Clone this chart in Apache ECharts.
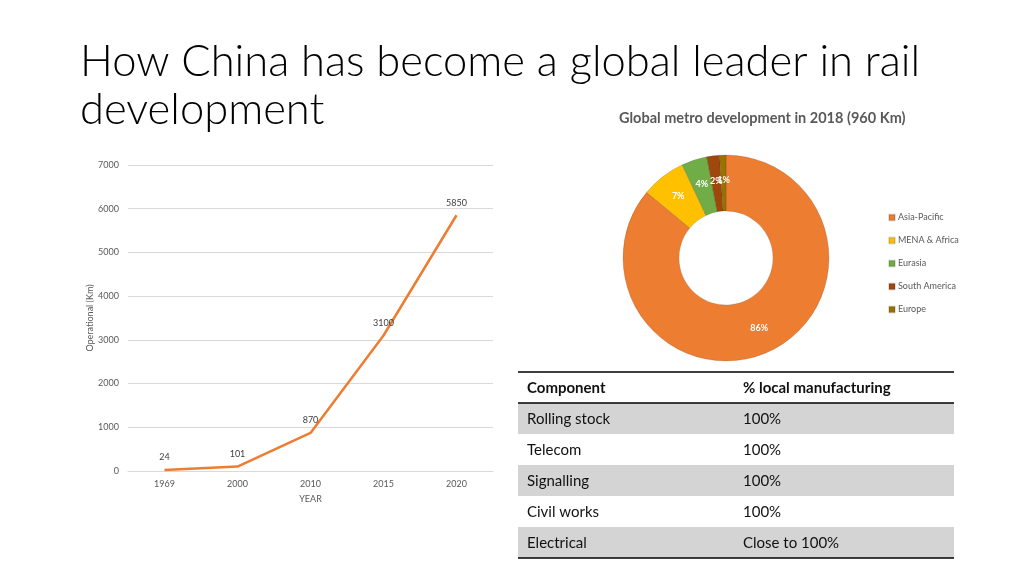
<!DOCTYPE html>
<html>
<head>
<meta charset="utf-8">
<title>China rail development</title>
<script src="https://cdn.jsdelivr.net/npm/echarts@6/dist/echarts.min.js"></script>
<style>
    html, body { margin:0; padding:0; background:#fff; }
    #main { width:1024px; height:576px; }
</style>
</head>
<body>
<div id="main"></div>
<script>
    var years = ['1969', '2000', '2010', '2015', '2020'];
    var operationalKm = [24, 101, 870, 3100, 5850];

    var regions = ['Asia-Pacific', 'MENA & Africa', 'Eurasia', 'South America', 'Europe'];
    var regionShare = [86, 7, 4, 2, 1];
    var regionColors = ['#ED7D31', '#FFC000', '#70AD47', '#9E480E', '#997300'];

    var tableHeader = ['Component', '% local manufacturing'];
    var components = ['Rolling stock', 'Telecom', 'Signalling', 'Civil works', 'Electrical'];
    var localShare = ['100%', '100%', '100%', '100%', 'Close to 100%'];

    var font = 'Lato, "Open Sans", sans-serif';

    //表格
    var buildTable = function(){
        var left = 518, width = 436, top = 372, rowH = 31, col2 = 743;
        var els = [];
        for(var i=0; i<components.length; i++){
            if(i%2 === 0){
                els.push({
                    type:'rect',
                    shape:{x:left, y:top+rowH*(i+1), width:width, height:rowH},
                    style:{fill:'#D4D4D4'}
                });
            }
        }
        var rows = [tableHeader].concat(components.map(function(c, i){ return [c, localShare[i]]; }));
        for(var r=0; r<rows.length; r++){
            var y = top + rowH*r + rowH/2 + 1;
            var bold = r === 0 ? 'bold' : 'normal';
            els.push({type:'text', x:left+9, y:y, style:{text:rows[r][0], font:bold+' 15px '+font, fill:'#111', verticalAlign:'middle'}});
            els.push({type:'text', x:col2, y:y, style:{text:rows[r][1], font:bold+' 15px '+font, fill:'#111', verticalAlign:'middle'}});
        }
        var lines = [top, top+rowH, top+rowH*rows.length];
        for(var k=0; k<lines.length; k++){
            els.push({
                type:'line',
                shape:{x1:left, y1:lines[k], x2:left+width, y2:lines[k]},
                style:{stroke:'#000', lineWidth:1.3}
            });
        }
        return els;
    };

    var chart = echarts.init(document.getElementById('main'));

    var option = {
        animation:false,
        textStyle:{fontFamily:font},
        title:[{
            text:'How China has become a global leader in rail\ndevelopment',
            left:75,
            top:33,
            textStyle:{fontSize:43.5, fontWeight:300, color:'#000', lineHeight:48, fontFamily:font}
        },{
            text:'Global metro development in 2018 (960 Km)',
            left:614,
            top:106,
            textStyle:{fontSize:14.5, fontWeight:'bold', color:'#595959', fontFamily:font}
        }],
        legend:{
            orient:'vertical',
            left:883,
            top:208,
            itemGap:14,
            itemWidth:6,
            itemHeight:6,
            icon:'rect',
            data:regions,
            textStyle:{fontSize:9, color:'#595959', padding:[0,0,0,-2]}
        },
        grid:{left:128, right:531, top:165, bottom:105},
        xAxis:{
            type:'category',
            data:years,
            axisLine:{lineStyle:{color:'#D9D9D9'}},
            axisTick:{show:false},
            axisLabel:{fontSize:9, color:'#595959', margin:9},
            name:'YEAR',
            nameLocation:'middle',
            nameGap:24,
            nameTextStyle:{fontSize:9, color:'#595959'}
        },
        yAxis:{
            type:'value',
            min:0,
            max:7000,
            interval:1000,
            axisLabel:{fontSize:9, color:'#595959', margin:9, formatter:function(v){ return String(v); }},
            splitLine:{lineStyle:{color:'#D9D9D9'}},
            name:'Operational (Km)',
            nameLocation:'middle',
            nameGap:33,
            nameTextStyle:{fontSize:9, color:'#595959'}
        },
        series:[{
            type:'line',
            data:operationalKm,
            symbol:'circle',
            symbolSize:0,
            showSymbol:true,
            lineStyle:{color:'#ED7D31', width:2.5},
            itemStyle:{color:'#ED7D31'},
            label:{show:true, position:'top', distance:8, fontSize:9, color:'#404040'}
        },{
            type:'pie',
            center:[726, 258],
            radius:[47, 103],
            startAngle:90,
            avoidLabelOverlap:false,
            data:regions.map(function(name, i){
                return {name:name, value:regionShare[i], itemStyle:{color:regionColors[i]}};
            }),
            itemStyle:{borderColor:'rgba(0,0,0,0.12)', borderWidth:1},
            label:{show:true, position:'inside', formatter:'{d}%', fontSize:9, fontWeight:'bold', color:'#fff'},
            labelLine:{show:false},
            labelLayout:{hideOverlap:false},
            emphasis:{disabled:true}
        }],
        graphic:buildTable()
    };

    chart.setOption(option);
</script>
</body>
</html>
